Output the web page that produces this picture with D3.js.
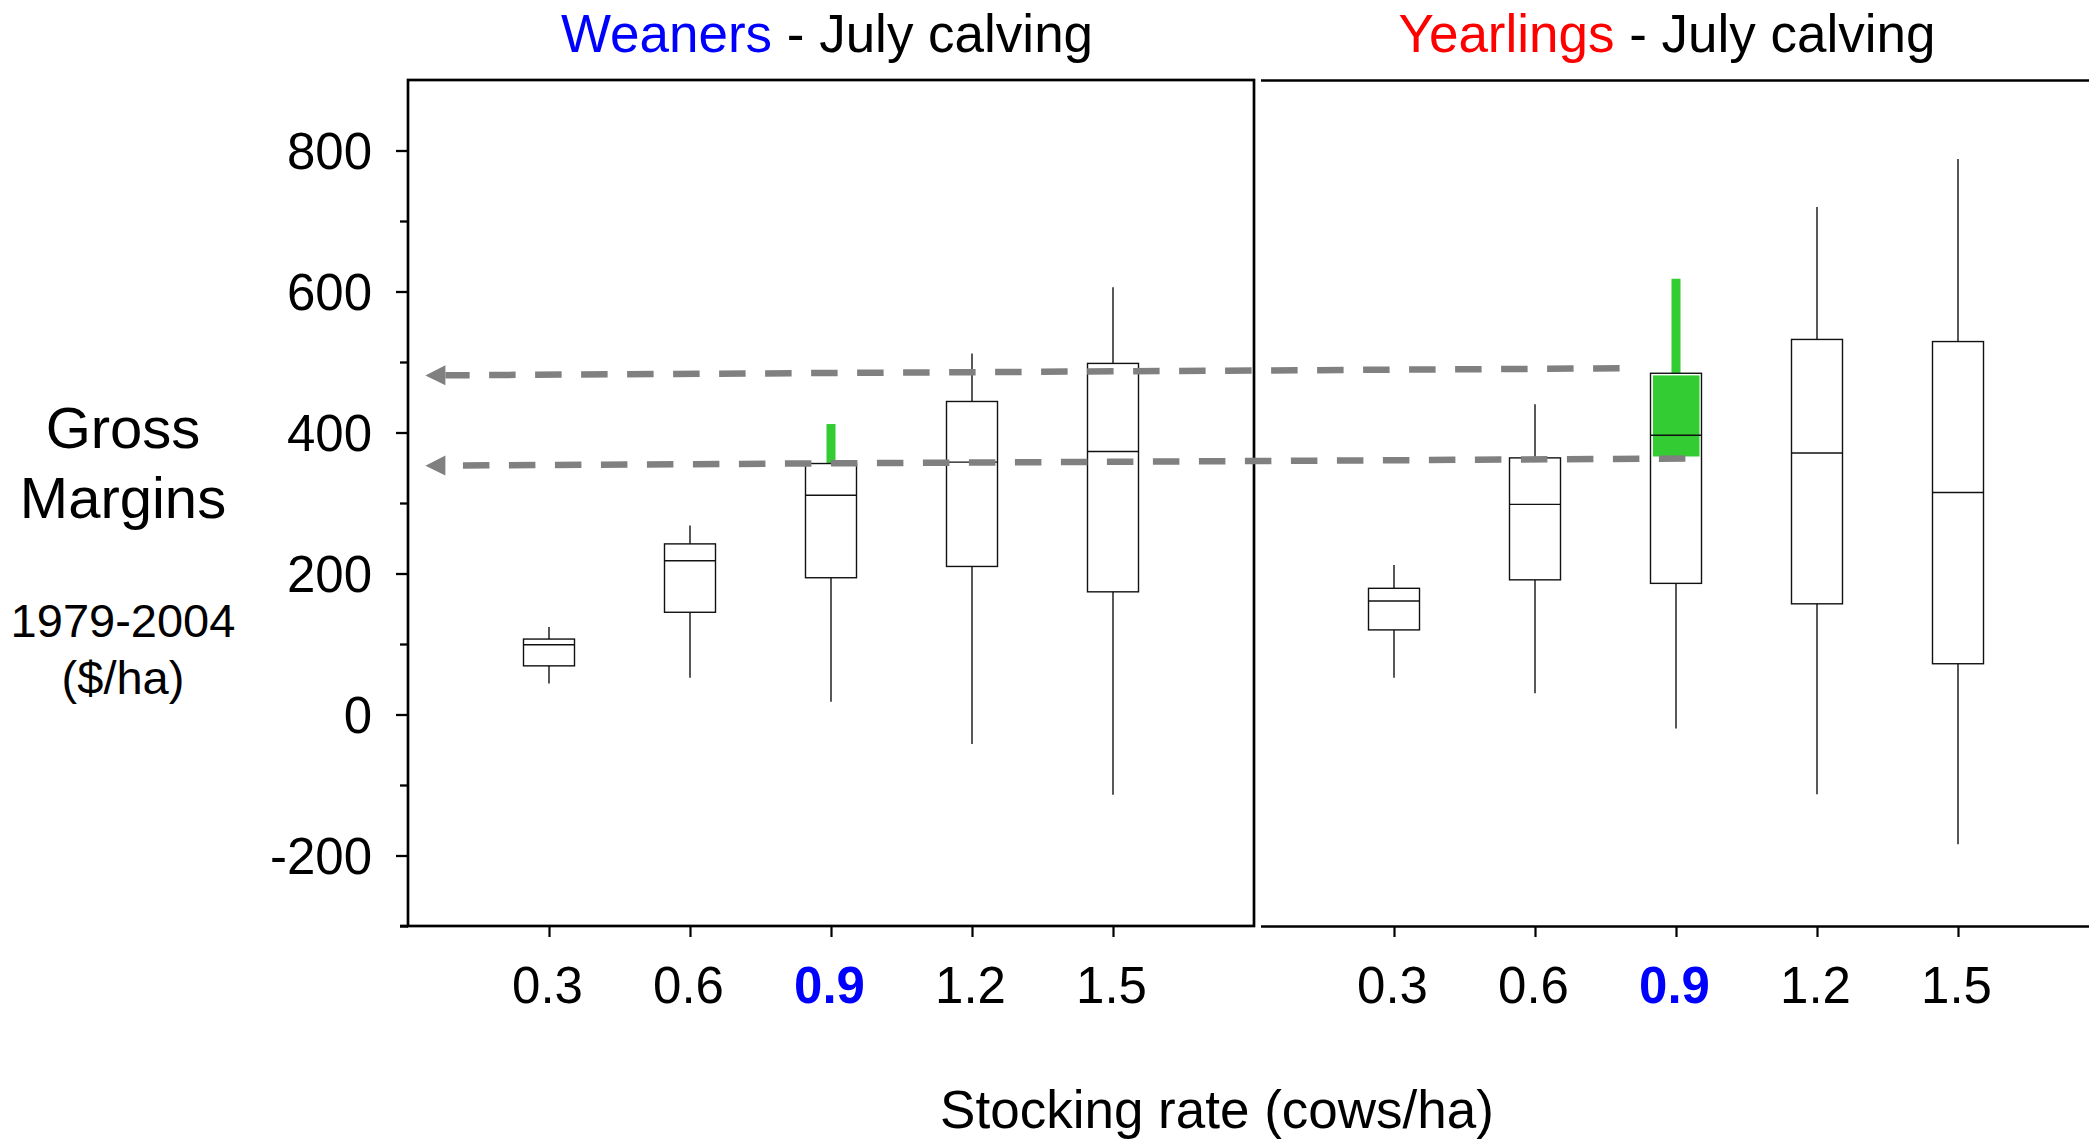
<!DOCTYPE html>
<html>
<head>
<meta charset="utf-8">
<script src="https://cdn.jsdelivr.net/npm/d3@7"></script>
<style>
  html, body { margin: 0; padding: 0; background: #fff; }
  svg { display: block; }
  text { font-family: "Liberation Sans", Arial, Helvetica, sans-serif; }
</style>
</head>
<body>
<svg id="chart" width="2089" height="1141"></svg>
<script>
// Stocking rates (cows/ha) shared by both panels
const rates = [0.3, 0.6, 0.9, 1.2, 1.5];
const rateLabels = ["0.3", "0.6", "0.9", "1.2", "1.5"];
const highlightRate = 0.9;

// Gross margin ($/ha), 1979-2004 - weaner enterprise
const weanerMin    = [44, 52, 18, -42, -114];
const weanerQ1     = [69, 145, 194, 210, 174];
const weanerMedian = [99, 218, 311, 358, 373];
const weanerQ3     = [107, 242, 356, 444, 498];
const weanerMax    = [124, 268, 412, 512, 606];

// Gross margin ($/ha), 1979-2004 - yearling enterprise
const yearlingMin    = [52, 30, -20, -113, -184];
const yearlingQ1     = [120, 191, 186, 157, 72];
const yearlingMedian = [161, 298, 396, 371, 315];
const yearlingQ3     = [179, 364, 484, 532, 529];
const yearlingMax    = [212, 440, 618, 720, 788];

// Shaded yearling range at 0.9 cows/ha
const yearlingBand = [366, 481];

// Guide arrows: start in the yearling panel, tip in the weaner panel
const guideStartRate  = [0.78, 0.92];
const guideStartValue = [491, 363];
const guideTipRate    = 0.037;
const guideTipValue   = [481, 353];

// Value axis ticks
const yMajorTicks = [-200, 0, 200, 400, 600, 800];
const yMinorTicks = [-300, -100, 100, 300, 500, 700];

const GREEN = "#33cc33";
const GUIDE = "#808080";

const svg = d3.select("#chart");
const W = 2089, H = 1141;
svg.append("rect").attr("width", W).attr("height", H).attr("fill", "#fff");

const y = d3.scaleLinear().domain([-300, 900]).range([926, 80]);
const xLeft  = d3.scaleLinear().domain([0, 1.8]).range([408, 1254]);
const xRight = d3.scaleLinear().domain([0, 1.8]).range([1253, 2099]);

function series(min, q1, med, q3, max) {
  return rates.map((r, i) => ({ rate: r, min: min[i], q1: q1[i], med: med[i], q3: q3[i], max: max[i] }));
}
const weaners   = series(weanerMin, weanerQ1, weanerMedian, weanerQ3, weanerMax);
const yearlings = series(yearlingMin, yearlingQ1, yearlingMedian, yearlingQ3, yearlingMax);

const boxW = 51;
const lineColor = "#111";

function drawBoxes(g, x, data, band) {
  const grp = g.append("g");
  // whiskers
  grp.selectAll("line.lo").data(data).join("line")
    .attr("x1", d => x(d.rate)).attr("x2", d => x(d.rate))
    .attr("y1", d => y(d.q1)).attr("y2", d => y(d.min))
    .attr("stroke", lineColor).attr("stroke-width", 1.4);
  grp.selectAll("line.hi").data(data).join("line")
    .attr("x1", d => x(d.rate)).attr("x2", d => x(d.rate))
    .attr("y1", d => y(d.q3)).attr("y2", d => y(d.max))
    .attr("stroke", d => d.rate === highlightRate ? GREEN : lineColor)
    .attr("stroke-width", d => d.rate === highlightRate ? 9 : 1.4);
  // boxes
  grp.selectAll("rect.box").data(data).join("rect")
    .attr("x", d => x(d.rate) - boxW / 2).attr("width", boxW)
    .attr("y", d => y(d.q3)).attr("height", d => y(d.q1) - y(d.q3))
    .attr("fill", "#fff").attr("stroke", lineColor).attr("stroke-width", 1.4);
  // highlighted band inside the 0.9 box
  if (band) {
    grp.append("rect")
      .attr("x", x(highlightRate) - boxW / 2 + 2.5).attr("width", boxW - 4.5)
      .attr("y", y(band[1])).attr("height", y(band[0]) - y(band[1]))
      .attr("fill", GREEN);
  }
  // medians
  grp.selectAll("line.med").data(data).join("line")
    .attr("x1", d => x(d.rate) - boxW / 2).attr("x2", d => x(d.rate) + boxW / 2)
    .attr("y1", d => y(d.med)).attr("y2", d => y(d.med))
    .attr("stroke", lineColor).attr("stroke-width", 1.4);
}

function drawXAxis(x) {
  const ax = svg.append("g").attr("transform", `translate(0,${y(-300)})`)
    .call(d3.axisBottom(x).tickValues(rates).tickSize(11).tickSizeOuter(0).tickPadding(30)
      .tickFormat((d, i) => rateLabels[i]));
  ax.select(".domain").remove();
  ax.selectAll(".tick line").attr("stroke", "#000").attr("stroke-width", 2.2);
  ax.selectAll(".tick text")
    .attr("font-size", 51)
    .attr("dx", -2)
    .attr("fill", d => d === highlightRate ? "#0000ff" : "#000")
    .attr("font-weight", d => d === highlightRate ? "bold" : "normal");
}

// Panel frames
svg.append("rect")
  .attr("x", xLeft(0)).attr("y", y(900))
  .attr("width", xLeft(1.8) - xLeft(0)).attr("height", y(-300) - y(900))
  .attr("fill", "none").attr("stroke", "#000").attr("stroke-width", 2.7);
[900, -300].forEach(v => {
  svg.append("line")
    .attr("x1", xRight(0) + 8).attr("x2", W)
    .attr("y1", y(v) + 0.5).attr("y2", y(v) + 0.5)
    .attr("stroke", "#000").attr("stroke-width", 2.7);
});
// bottom edge reaches out to the last tick
svg.append("line").attr("x1", xLeft(0) - 8).attr("x2", xLeft(0))
  .attr("y1", y(-300)).attr("y2", y(-300)).attr("stroke", "#000").attr("stroke-width", 2.7);

// Value axis
const yMaj = svg.append("g").attr("transform", `translate(${xLeft(0)},0)`)
  .call(d3.axisLeft(y).tickValues(yMajorTicks).tickSize(12).tickSizeOuter(0).tickPadding(24)
    .tickFormat(d => String(d)));
yMaj.select(".domain").remove();
yMaj.selectAll(".tick line").attr("stroke", "#000").attr("stroke-width", 2.3);
yMaj.selectAll(".tick text").attr("font-size", 51).attr("fill", "#000").attr("dy", "0.36em");

const yMin = svg.append("g").attr("transform", `translate(${xLeft(0)},0)`)
  .call(d3.axisLeft(y).tickValues(yMinorTicks).tickSize(8).tickSizeOuter(0).tickFormat(""));
yMin.select(".domain").remove();
yMin.selectAll(".tick line").attr("stroke", "#000").attr("stroke-width", 2.3);

// Box plots
drawBoxes(svg, xLeft, weaners, null);
drawBoxes(svg, xRight, yearlings, yearlingBand);

// Category axes
drawXAxis(xLeft);
drawXAxis(xRight);

// Guide arrows from yearling levels back to the weaner scale
const head = 20, halfHead = 10;
guideStartValue.forEach((v, i) => {
  const x0 = xRight(guideStartRate[i]), y0 = y(v);
  const xt = xLeft(guideTipRate), yt = y(guideTipValue[i]);
  const slope = (yt - y0) / (xt - x0);
  const xb = xt + head, yb = yt + slope * head;
  svg.append("line")
    .attr("x1", x0).attr("y1", y0).attr("x2", xb).attr("y2", yb)
    .attr("stroke", GUIDE).attr("stroke-width", 6.5)
    .attr("stroke-dasharray", "26.5 19.5");
  svg.append("path")
    .attr("d", `M${xt},${yt} L${xb},${yb - halfHead} L${xb},${yb + halfHead} Z`)
    .attr("fill", GUIDE);
});

// Panel titles
function title(cx, word, color) {
  const t = svg.append("text").attr("x", cx).attr("y", 52)
    .attr("text-anchor", "middle").attr("font-size", 53);
  t.append("tspan").attr("fill", color).text(word);
  t.append("tspan").attr("fill", "#000").text(" - July calving");
}
title(827, "Weaners", "#0000ff");
title(1667, "Yearlings", "#ff0000");

// Value axis title
const yt = svg.append("g").attr("text-anchor", "middle").attr("fill", "#000");
yt.append("text").attr("x", 123).attr("y", 448).attr("font-size", 58).text("Gross");
yt.append("text").attr("x", 123).attr("y", 518).attr("font-size", 58).text("Margins");
yt.append("text").attr("x", 123).attr("y", 637).attr("font-size", 47).text("1979-2004");
yt.append("text").attr("x", 123).attr("y", 694).attr("font-size", 47).text("($/ha)");

// Category axis title
svg.append("text").attr("x", 1217).attr("y", 1128)
  .attr("text-anchor", "middle").attr("font-size", 53).attr("fill", "#000")
  .text("Stocking rate (cows/ha)");
</script>
</body>
</html>
